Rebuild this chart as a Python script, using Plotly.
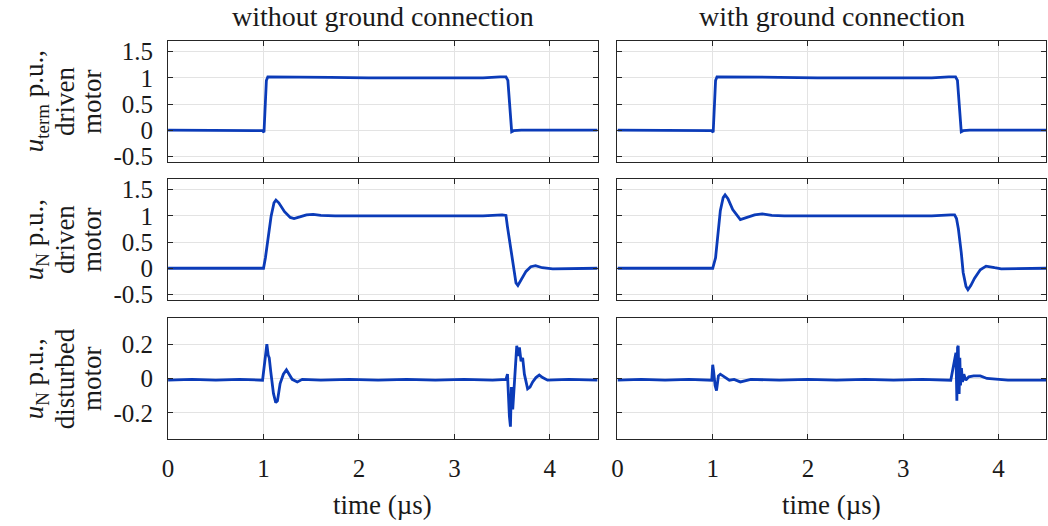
import plotly.graph_objects as go

# ---------------- data ----------------
col_titles = ["without ground connection", "with ground connection"]
row_label_lines = [
    ["<i>u</i><sub>term</sub> p.u.,", "driven", "motor"],
    ["<i>u</i><sub>N</sub> p.u.,", "driven", "motor"],
    ["<i>u</i><sub>N</sub> p.u.,", "disturbed", "motor"],
]
x_tick_vals = [0, 1, 2, 3, 4]
y_ticks_top = [-0.5, 0, 0.5, 1, 1.5]
y_ticktext_top = ["-0.5", "0", "0.5", "1", "1.5"]
y_ticks_bot = [-0.2, 0, 0.2]
y_ticktext_bot = ["-0.2", "0", "0.2"]

# u_term, driven motor, without ground connection
t_term_wo = [0, 0.3, 0.6, 0.9, 0.99, 1.005, 1.015, 1.03, 1.045, 1.07, 1.3, 1.7, 2.1, 2.5, 2.9, 3.3, 3.48, 3.54, 3.56, 3.575, 3.59, 3.6, 3.62, 3.7, 4.0, 4.5]
u_term_wo = [0, 0.0, -0.01, 0.0, -0.01, -0.04, 0.4, 0.95, 1.02, 1.02, 1.01, 1.01, 1.0, 1.0, 1.0, 1.0, 1.02, 1.02, 0.95, 0.5, 0.08, -0.03, -0.01, 0.0, 0.0, 0.0]
# u_term, driven motor, with ground connection
t_term_w = [0, 0.3, 0.6, 0.9, 0.99, 1.005, 1.015, 1.03, 1.045, 1.07, 1.3, 1.7, 2.1, 2.5, 2.9, 3.3, 3.48, 3.55, 3.57, 3.585, 3.6, 3.61, 3.63, 3.7, 4.0, 4.5]
u_term_w = [0, 0.0, -0.01, 0.0, -0.01, -0.04, 0.4, 0.95, 1.02, 1.02, 1.01, 1.01, 1.0, 1.0, 1.0, 1.0, 1.02, 1.02, 0.95, 0.5, 0.08, -0.03, -0.01, 0.0, 0.0, 0.0]

# u_N, driven motor, without ground connection
t_nd_wo = [0, 0.5, 0.99, 1.0, 1.02, 1.05, 1.08, 1.11, 1.13, 1.16, 1.22, 1.28, 1.32, 1.38, 1.45, 1.52, 1.6, 1.75, 2.2, 2.8, 3.3, 3.5, 3.54, 3.555, 3.575, 3.6, 3.62, 3.645, 3.665, 3.7, 3.75, 3.8, 3.85, 3.92, 4.03, 4.5]
u_nd_wo = [0, 0.0, 0.0, 0.0, 0.2, 0.6, 1.0, 1.25, 1.3, 1.25, 1.08, 0.97, 0.95, 0.98, 1.02, 1.03, 1.01, 1.0, 1.0, 1.0, 1.0, 1.02, 1.01, 0.8, 0.55, 0.2, -0.05, -0.28, -0.33, -0.22, -0.06, 0.03, 0.05, 0.01, -0.01, 0.0]
# u_N, driven motor, with ground connection
t_nd_w = [0, 0.5, 0.99, 1.0, 1.03, 1.05, 1.08, 1.11, 1.13, 1.16, 1.21, 1.29, 1.36, 1.44, 1.52, 1.62, 1.75, 2.2, 2.8, 3.3, 3.5, 3.54, 3.56, 3.58, 3.61, 3.63, 3.66, 3.68, 3.71, 3.75, 3.81, 3.87, 3.96, 4.03, 4.5]
u_nd_w = [0, 0.0, 0.0, 0.0, 0.2, 0.6, 1.1, 1.35, 1.4, 1.33, 1.12, 0.93, 0.97, 1.02, 1.04, 1.01, 1.0, 1.0, 1.0, 1.0, 1.02, 1.02, 0.95, 0.75, 0.3, -0.08, -0.35, -0.41, -0.33, -0.19, -0.03, 0.04, 0.01, -0.01, 0.0]

# u_N, disturbed motor, without ground connection
t_dist_wo = [0, 0.25, 0.5, 0.75, 0.99, 1.005, 1.014, 1.025, 1.035, 1.049, 1.06, 1.076, 1.104, 1.128, 1.146, 1.174, 1.208, 1.24, 1.267, 1.30, 1.354, 1.406, 1.6, 1.9, 2.2, 2.5, 2.8, 3.1, 3.4, 3.54, 3.556, 3.566, 3.576, 3.587, 3.597, 3.611, 3.628, 3.639, 3.653, 3.667, 3.681, 3.698, 3.715, 3.733, 3.75, 3.767, 3.792, 3.82, 3.854, 3.889, 3.924, 3.976, 4.2, 4.5]
u_dist_wo = [-0.01, -0.005, -0.01, -0.005, -0.01, 0.06, 0.135, 0.17, 0.2, 0.135, 0.12, 0.04, -0.087, -0.14, -0.13, -0.03, 0.025, 0.05, 0.025, -0.005, -0.02, -0.005, -0.01, -0.005, -0.01, -0.005, -0.01, -0.005, -0.01, -0.005, 0.025, -0.12, -0.22, -0.28, -0.05, -0.18, -0.005, 0.1, 0.19, 0.13, 0.18, 0.1, 0.12, 0.025, -0.01, -0.06, -0.05, -0.02, 0.005, 0.02, 0.005, -0.01, -0.005, -0.01]
# u_N, disturbed motor, with ground connection
t_dist_w = [0, 0.25, 0.5, 0.75, 0.99, 1.0, 1.01, 1.025, 1.04, 1.06, 1.08, 1.105, 1.14, 1.175, 1.225, 1.29, 1.4, 1.7, 2.0, 2.3, 2.6, 2.9, 3.2, 3.5, 3.554, 3.564, 3.571, 3.578, 3.588, 3.595, 3.602, 3.612, 3.623, 3.637, 3.658, 3.689, 3.74, 3.81, 3.88, 4.1, 4.5]
u_dist_w = [-0.01, -0.005, -0.01, -0.005, -0.01, 0.08, 0.04, -0.04, -0.07, 0.015, 0.025, 0.015, 0.0, -0.01, -0.005, -0.02, -0.005, -0.01, -0.005, -0.01, -0.005, -0.01, -0.005, -0.01, 0.15, -0.13, 0.18, 0.19, -0.09, 0.12, -0.04, 0.06, -0.02, 0.025, -0.01, 0.01, 0.015, 0.015, 0.0, -0.01, -0.01]

series = [
    (t_term_wo, u_term_wo), (t_term_w, u_term_w),
    (t_nd_wo, u_nd_wo), (t_nd_w, u_nd_w),
    (t_dist_wo, u_dist_wo), (t_dist_w, u_dist_w),
]

# ---------------- layout geometry ----------------
W, H = 1048, 526
col_px = [(163, 595), (615, 1046)]
row_px = [(39, 162), (180, 303), (322, 445)]
y_ranges = [[-0.6, 1.7], [-0.6, 1.7], [-0.35, 0.35]]
label_line_x = [31, 60, 87]

FONT = "Liberation Serif, Times New Roman, serif"
LINE = "#0b3bb8"
AX = "#262626"
GRID = "#e3e3e3"
TXT = "#1a1a1a"

fig = go.Figure()
layout = dict(
    width=W, height=H,
    margin=dict(l=0, r=0, t=0, b=0),
    paper_bgcolor="white", plot_bgcolor="white",
    showlegend=False,
    font=dict(family=FONT, size=24, color=TXT),
)

for r in range(3):
    for c in range(2):
        i = r * 2 + c + 1
        xs, ys = series[i - 1]
        fig.add_trace(go.Scatter(
            x=xs, y=ys, mode="lines",
            line=dict(color=LINE, width=2.8),
            xaxis=f"x{i}", yaxis=f"y{i}", hoverinfo="skip",
        ))
        x0, x1 = col_px[c]
        y0, y1 = row_px[r]
        xa = dict(
            domain=[x0 / W, x1 / W], range=[0, 4.5], anchor=f"y{i}",
            showline=True, mirror="ticks", linecolor=AX, linewidth=1,
            ticks="inside", ticklen=5, tickcolor=AX, tickwidth=1,
            tickvals=x_tick_vals, showgrid=True, gridcolor=GRID, gridwidth=1,
            zeroline=False, showticklabels=(r == 2),
            tickfont=dict(family=FONT, size=25, color=TXT),
            ticklabelstandoff=7,
        )
        if r == 2:
            ytv, ytt = y_ticks_bot, y_ticktext_bot
        else:
            ytv, ytt = y_ticks_top, y_ticktext_top
        ya = dict(
            domain=[1 - y1 / H, 1 - y0 / H], range=y_ranges[r], anchor=f"x{i}",
            showline=True, mirror="ticks", linecolor=AX, linewidth=1,
            ticks="inside", ticklen=5, tickcolor=AX, tickwidth=1,
            tickvals=ytv, ticktext=ytt, showgrid=True, gridcolor=GRID, gridwidth=1,
            zeroline=False, showticklabels=(c == 0),
            tickfont=dict(family=FONT, size=25, color=TXT),
            ticklabelstandoff=9,
        )
        key = "" if i == 1 else str(i)
        layout["xaxis" + key] = xa
        layout["yaxis" + key] = ya

annotations = []
for c in range(2):
    x0, x1 = col_px[c]
    annotations.append(dict(
        text=col_titles[c], xref="paper", yref="paper",
        x=(x0 + x1) / 2 / W, y=1 - 14 / H, xanchor="center", yanchor="middle",
        showarrow=False, font=dict(family=FONT, size=28, color=TXT),
    ))
    annotations.append(dict(
        text="time (µs)", xref="paper", yref="paper",
        x=(x0 + x1) / 2 / W, y=1 - 513 / H, xanchor="center", yanchor="middle",
        showarrow=False, font=dict(family=FONT, size=27, color=TXT),
    ))
for r in range(3):
    y0, y1 = row_px[r]
    for k, line_text in enumerate(row_label_lines[r]):
        annotations.append(dict(
            text=line_text, xref="paper", yref="paper",
            x=label_line_x[k] / W, y=1 - (y0 + y1) / 2 / H,
            xanchor="center", yanchor="middle",
            textangle=-90, showarrow=False,
            font=dict(family=FONT, size=27, color=TXT),
        ))
layout["annotations"] = annotations

fig.update_layout(**layout)
fig.write_html("out.html")
